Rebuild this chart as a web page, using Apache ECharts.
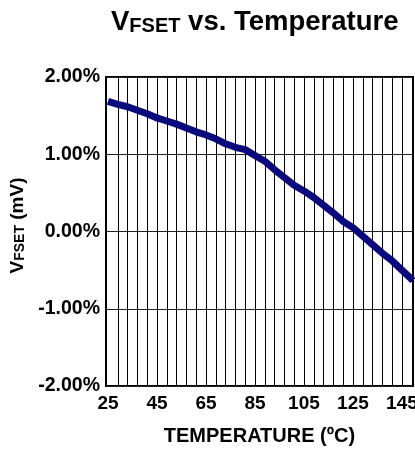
<!DOCTYPE html>
<html><head><meta charset="utf-8">
<script src="https://cdn.jsdelivr.net/npm/echarts@6/dist/echarts.min.js"></script>
<style>html,body{margin:0;padding:0;background:#fff}#c{width:415px;height:449px}</style>
</head><body><div id="c"></div>
<script>
var temperatures = [25, 29, 33, 37, 41, 45, 49, 53, 57, 61, 65, 69, 73, 77, 81, 85, 89, 93, 97, 101, 105, 109, 113, 117, 121, 125, 129, 133, 137, 141, 145, 149, 149.5];
var vfsetPct = [1.685, 1.645, 1.615, 1.57, 1.525, 1.47, 1.43, 1.39, 1.34, 1.29, 1.25, 1.2, 1.135, 1.09, 1.06, 0.985, 0.91, 0.8, 0.7, 0.6, 0.525, 0.44, 0.34, 0.24, 0.13, 0.05, -0.06, -0.17, -0.28, -0.38, -0.5, -0.62, -0.635];
var xLabelValues = [25, 45, 65, 85, 105, 125, 145];
var xGridValues = [29, 33, 37, 41, 45, 49, 53, 57, 61, 65, 69, 73, 77, 81, 85, 89, 93, 97, 101, 105, 109, 113, 117, 121, 125, 129, 133, 137, 141, 145];
var yTicks = [-2, -1, 0, 1, 2];

var font = '"Liberation Sans", Arial, sans-serif';
var chart = echarts.init(document.getElementById('c'));
chart.setOption({
  animation: false,
  title: {
    text: '{v|V}{s|FSET}{v| vs. Temperature}',
    left: 106, top: 3,
    textStyle: {
      rich: {
        v: {fontFamily: font, fontWeight: 'bold', fontSize: 27.5, color: '#000', verticalAlign: 'bottom'},
        s: {fontFamily: font, fontWeight: 'bold', fontSize: 20, color: '#000', padding: [8, 0, 0, 0], verticalAlign: 'bottom'}
      }
    }
  },
  grid: {left: 106, right: 2, top: 77, bottom: 63, show: true, borderColor: '#000', borderWidth: 2, containLabel: false, outerBoundsMode: 'none'},
  xAxis: {
    type: 'value', min: 24.2, max: 149.5,
    name: 'TEMPERATURE (ºC)', nameLocation: 'middle', nameGap: 40,
    nameTextStyle: {fontFamily: font, fontWeight: 'bold', fontSize: 20, color: '#000'},
    axisLine: {show: false},
    axisTick: {show: false, customValues: xGridValues},
    axisLabel: {customValues: xLabelValues, fontFamily: font, fontWeight: 'bold', fontSize: 19, color: '#000', margin: 8},
    splitLine: {show: true, lineStyle: {color: '#000', width: 1}}
  },
  yAxis: {
    type: 'value', min: -2, max: 2, interval: 1,
    name: '{v|V}{s|FSET}{v| (mV)}', nameLocation: 'middle', nameGap: 79, nameRotate: 90,
    nameTextStyle: {
      padding: [0, 0, 0, 12],
      rich: {
        v: {fontFamily: font, fontWeight: 'bold', fontSize: 19, color: '#000', verticalAlign: 'bottom'},
        s: {fontFamily: font, fontWeight: 'bold', fontSize: 14, color: '#000', padding: [6, 0, 0, 0], verticalAlign: 'bottom'}
      }
    },
    axisLine: {show: false},
    axisTick: {show: false},
    axisLabel: {fontFamily: font, fontWeight: 'bold', fontSize: 19.5, color: '#000', margin: 6,
      formatter: function (v) { return v.toFixed(2) + '%'; }},
    splitLine: {show: true, lineStyle: {color: '#222', width: 1}}
  },
  series: [{
    type: 'line', showSymbol: false, symbol: 'none',
    data: temperatures.map(function (t, i) { return [t, vfsetPct[i]]; }),
    lineStyle: {color: '#0a0a7c', width: 7, join: 'round'},
    z: 5
  }]
});
</script></body></html>
